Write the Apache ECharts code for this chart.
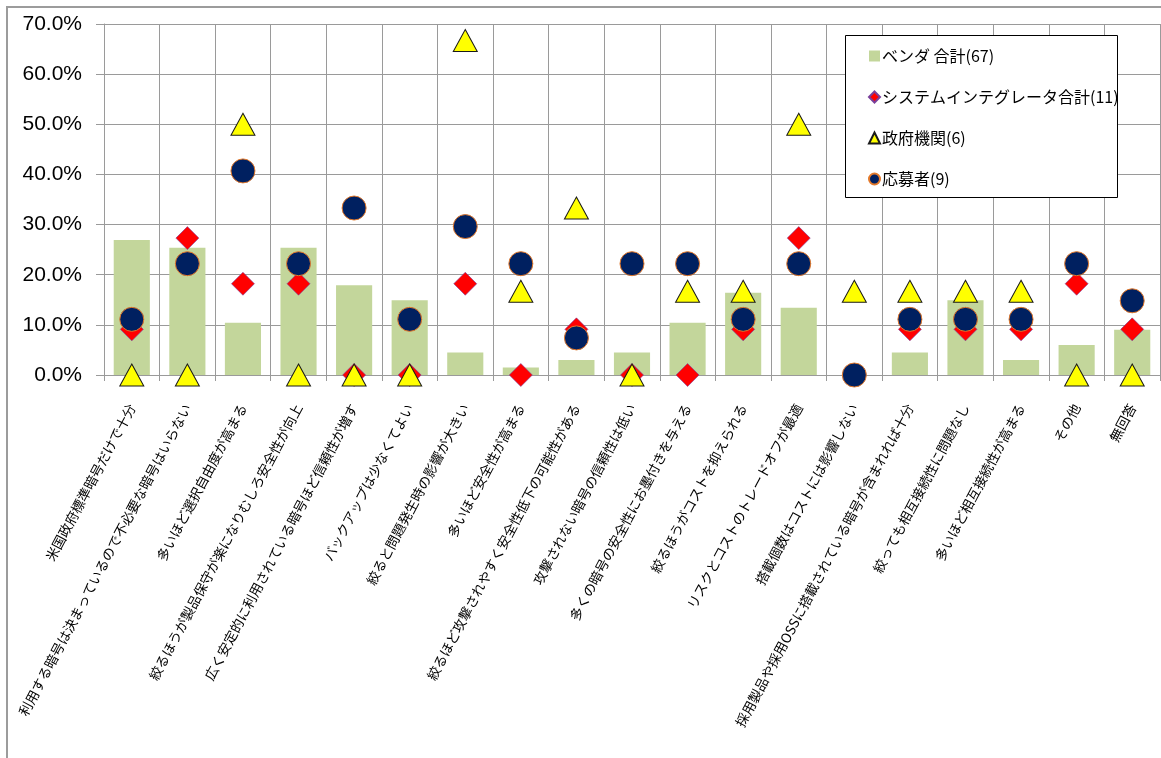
<!DOCTYPE html>
<html>
<head>
<meta charset="utf-8">
<script src="https://cdn.jsdelivr.net/npm/echarts@6/dist/echarts.min.js"></script>
<style>
  html, body { margin: 0; padding: 0; background: #fff; }
  #chart { width: 1161px; height: 758px; }
</style>
</head>
<body>
<div id="chart"></div>
<script>
// Survey answers: reasons for the number of ciphers listed (percent of respondents)
const categories = [
  '米国政府標準暗号だけで十分',
  '利用する暗号は決まっているので不必要な暗号はいらない',
  '多いほど選択自由度が高まる',
  '絞るほうが製品保守が楽になりむしろ安全性が向上',
  '広く安定的に利用されている暗号ほど信頼性が増す',
  'バックアップは少なくてよい',
  '絞ると問題発生時の影響が大きい',
  '多いほど安全性が高まる',
  '絞るほど攻撃されやすく安全性低下の可能性がある',
  '攻撃されない暗号の信頼性は低い',
  '多くの暗号の安全性にお墨付きを与える',
  '絞るほうがコストを抑えられる',
  'リスクとコストのトレードオフが最適',
  '搭載個数はコストには影響しない',
  '採用製品や採用OSSに搭載されている暗号が含まれれば十分',
  '絞っても相互接続性に問題なし',
  '多いほど相互接続性が高まる',
  'その他',
  '無回答'
];

const seriesNames = ['ベンダ 合計(67)', 'システムインテグレータ合計(11)', '政府機関(6)', '応募者(9)'];

const vendorTotal = [26.9, 25.4, 10.4, 25.4, 17.9, 14.9, 4.5, 1.5, 3.0, 4.5, 10.4, 16.4, 13.4, 0.0, 4.5, 14.9, 3.0, 6.0, 9.0];
const integratorTotal = [9.1, 27.3, 18.2, 18.2, 0.0, 0.0, 18.2, 0.0, 9.1, 0.0, 0.0, 9.1, 27.3, 0.0, 9.1, 9.1, 9.1, 18.2, 9.1];
const government = [0.0, 0.0, 50.0, 0.0, 0.0, 0.0, 66.7, 16.7, 33.3, 0.0, 16.7, 16.7, 50.0, 16.7, 16.7, 16.7, 16.7, 0.0, 0.0];
const applicants = [11.1, 22.2, 40.7, 22.2, 33.3, 11.1, 29.6, 22.2, 7.4, 22.2, 22.2, 11.1, 22.2, 0.0, 11.1, 11.1, 11.1, 22.2, 14.8];

const yTicks = { min: 0, max: 70, interval: 10 };

const gridColor = '#9a9a9a';
const jpFont = '"Noto Sans CJK JP", "Noto Sans", sans-serif';

const chart = echarts.init(document.getElementById('chart'), null, { renderer: 'canvas' });

chart.setOption({
  animation: false,
  backgroundColor: '#ffffff',
  graphic: [
    // outer chart-area frame (top and left edges visible)
    {
      type: 'rect', z: -10, silent: true,
      shape: { x: 7, y: 7, width: 1200, height: 800 },
      style: { fill: 'none', stroke: '#9c9c9c', lineWidth: 2 }
    },
    // legend box
    {
      type: 'rect', z: 5, silent: true,
      shape: { x: 845.5, y: 35.5, width: 272, height: 162 },
      style: { fill: '#ffffff', stroke: '#000000', lineWidth: 1 }
    }
  ],
  legend: {
    orient: 'vertical',
    left: 863,
    top: 43,
    itemGap: 25,
    itemWidth: 11,
    itemHeight: 11,
    z: 10,
    textStyle: { fontFamily: jpFont, fontSize: 16, color: '#000', padding: [0, 0, 0, -3] },
    data: [
      { name: seriesNames[0], icon: 'rect' },
      { name: seriesNames[1], icon: 'diamond' },
      { name: seriesNames[2], icon: 'triangle' },
      { name: seriesNames[3], icon: 'circle' }
    ]
  },
  grid: { left: 104, right: 1, top: 24, bottom: 383, containLabel: false },
  xAxis: {
    type: 'category',
    data: categories,
    boundaryGap: true,
    axisLine: { show: true, lineStyle: { color: gridColor, width: 1 } },
    axisTick: { show: true, length: 6, lineStyle: { color: gridColor } },
    splitLine: { show: true, lineStyle: { color: gridColor, width: 1 } },
    axisLabel: {
      interval: 0,
      rotate: 62,
      margin: 30,
      fontFamily: jpFont,
      fontSize: 13.5,
      color: '#000'
    }
  },
  yAxis: {
    type: 'value',
    min: yTicks.min,
    max: yTicks.max,
    interval: yTicks.interval,
    axisLine: { show: true, lineStyle: { color: gridColor, width: 1 } },
    axisTick: { show: true, length: 8, lineStyle: { color: gridColor } },
    splitLine: { show: true, lineStyle: { color: gridColor, width: 1 } },
    axisLabel: {
      margin: 22,
      fontFamily: '"Liberation Sans", Arial, sans-serif',
      fontSize: 21,
      color: '#000',
      formatter: v => v.toFixed(1) + '%'
    }
  },
  series: [
    {
      name: seriesNames[0],
      type: 'bar',
      data: vendorTotal,
      barCategoryGap: '35%',
      itemStyle: { color: '#c3d69b' },
      z: 2
    },
    {
      name: seriesNames[1],
      type: 'scatter',
      data: integratorTotal,
      symbol: 'diamond',
      symbolSize: [23, 23],
      clip: false,
      itemStyle: { color: '#ff0000', opacity: 1, borderColor: '#7a3f9a', borderWidth: 0.6 },
      z: 3
    },
    {
      name: seriesNames[2],
      type: 'scatter',
      data: government,
      symbol: 'triangle',
      symbolSize: [24, 22],
      clip: false,
      itemStyle: { color: '#ffff00', opacity: 1, borderColor: '#1a1a1a', borderWidth: 1 },
      z: 4
    },
    {
      name: seriesNames[3],
      type: 'scatter',
      data: applicants,
      symbol: 'circle',
      symbolSize: 24,
      clip: false,
      itemStyle: { color: '#002060', opacity: 1, borderColor: '#e3792b', borderWidth: 1 },
      z: 5
    }
  ]
});
</script>
</body>
</html>
